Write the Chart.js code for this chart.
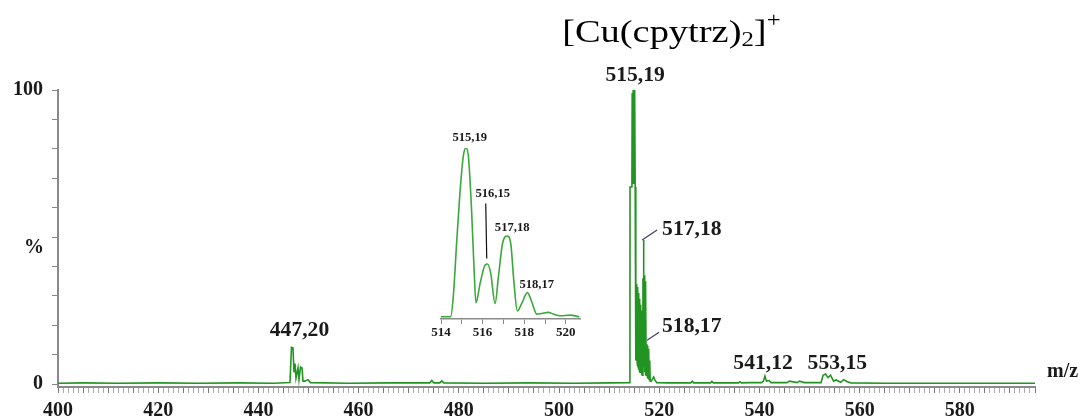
<!DOCTYPE html>
<html>
<head>
<meta charset="utf-8">
<script src="https://cdn.jsdelivr.net/npm/chart.js@4.4.1/dist/chart.umd.min.js"></script>
<style>
  html, body { margin: 0; padding: 0; background: #fff; }
  #wrap { position: relative; width: 1082px; height: 418px; }
  #wrap canvas { position: absolute; left: 0; top: 0; }
</style>
</head>
<body>
<div id="wrap">
  <canvas id="spectrum" width="1082" height="418"></canvas>
  <canvas id="inset" width="1082" height="418"></canvas>
</div>
<script>
// main spectrum, m/z and relative intensity (%)
const mzValues = [
  400, 405, 412, 420, 428, 436, 443, 446.3,
  446.6, 446.9, 447.1, 447.3, 447.5, 447.9, 448.1, 448.4, 448.7, 448.9, 449.3, 449.9, 450.4,
  458, 466, 474.2, 474.6, 475.0, 476.2, 476.6, 477.0, 485, 494, 503, 510, 514.15,
  514.17, 514.55, 514.6, 514.7, 514.8, 514.9, 515.0, 515.1, 515.2, 515.3,
  515.35, 515.4, 515.45, 515.5, 515.55, 515.6, 515.65, 515.7, 515.75, 515.8,
  515.85, 515.9, 515.95, 516.0, 516.05, 516.1, 516.15, 516.2, 516.25, 516.3,
  516.35, 516.4, 516.45, 516.5, 516.6, 516.75, 516.8, 516.85, 516.9, 516.95,
  517.0, 517.05, 517.1, 517.15, 517.2, 517.25, 517.3, 517.4, 517.55, 517.6,
  517.65, 517.7, 517.75, 517.8, 517.85, 517.9, 517.95, 518.0, 518.1, 518.2,
  518.4, 518.9, 519.1, 519.5,
  522, 526.3, 526.6, 526.9, 530.2, 530.5, 530.8, 535.8, 536.1, 536.4, 538,
  540.4, 540.8, 541.1, 541.4, 541.9, 542.3, 545.5, 546, 547.5, 548, 549,
  552.3, 552.7, 553.2, 553.7, 554.2, 554.8, 555.3, 556.2, 556.8, 557.5, 558.3,
  565, 575, 585, 595
];
const intensity = [
  0.3, 0.4, 0.3, 0.4, 0.3, 0.4, 0.3, 0.5,
  12.5, 12.3, 4, 7, 2, 5.5, 1.5, 5.8, 5.5, 1, 1, 1.5, 0.5,
  0.3, 0.4, 0.4, 1.2, 0.4, 0.4, 1.1, 0.4, 0.3, 0.4, 0.3, 0.4, 0.5,
  67, 67, 99, 68, 100, 68, 100, 98, 67, 8,
  33, 9, 34, 8, 33, 7, 33, 6, 32, 6,
  31, 5, 30, 5, 29, 4, 28, 4, 27, 4,
  26, 4, 25, 4, 3, 36, 6, 49, 37, 6,
  37, 5, 36, 4, 35, 3, 34, 3, 13.5, 3,
  13, 2, 13, 2, 12, 2, 11, 1.5, 8, 1,
  1, 2.4, 1.5, 0.5,
  0.4, 0.4, 1.0, 0.4, 0.4, 0.9, 0.4, 0.4, 0.8, 0.4, 0.5,
  0.5, 1.0, 2.7, 1.0, 1.2, 0.5, 0.5, 1.0, 0.5, 1.0, 0.5,
  0.5, 3.0, 3.4, 2.2, 3.0, 1.0, 1.4, 0.6, 1.5, 0.8, 0.4,
  0.3, 0.3, 0.3, 0.3
];

// inset (zoom on the molecular ion cluster)
const insetMz = [
  513.98, 514.46, 514.59, 514.75, 514.91, 515.07, 515.2, 515.31, 515.47, 515.59,
  515.68, 515.88, 516.12, 516.24, 516.39, 516.6, 516.76, 516.96, 517.19, 517.35,
  517.51, 517.67, 517.88, 518.15, 518.36, 518.6, 518.84, 519.16, 519.4, 519.72,
  520.2, 520.65
];
const insetIntensity = [
  0, 0, 11.9, 43.6, 73.3, 95, 100, 96, 63, 28,
  8.3, 19.8, 30.7, 31.3, 25.7, 7.9, 23.8, 43.6, 47.9, 43.6,
  19.8, 3.4, 7.9, 14.3, 8.9, 1.6, 2, 2.6, 1.6, 0.6,
  1, 0
];

const xTickLabels = [400, 420, 440, 460, 480, 500, 520, 540, 560, 580];
const yTickValues = [0, 10, 20, 30, 40, 50, 60, 70, 80, 90, 100];
const yTickLabels = { 0: '0', 100: '100' };
const insetTickLabels = [514, 516, 518, 520];

const peakNames = ['447,20', '515,19', '517,18', '518,17', '541,12', '553,15'];
const peakMz = [447.20, 515.19, 517.18, 518.17, 541.12, 553.15];
const peakHeight = [12.5, 100, 49, 13.5, 2.7, 3.4];

const insetNames = ['515,19', '516,15', '517,18', '518,17'];
const insetPeakMz = [515.19, 516.15, 517.18, 518.17];
const insetPeakHeight = [100, 31, 48, 14];

// label placement relative to the peak (px)
const peakOffsets = [[5, -16, 'center'], [0, -14, 'center'], [17, -10, 'left'], [12, -18, 'left'], [-2, -12, 'center'], [12, -10, 'center']];
const insetOffsets = [[4, -10], [7, -71], [5, -8], [9, -8]];

const serif = '"Liberation Serif", "Times New Roman", serif';
Chart.defaults.font.family = serif;

function drawText(ctx, text, x, y, size, align, weight, stretch) {
  ctx.save();
  ctx.font = (weight || 'bold') + ' ' + size + 'px ' + serif;
  ctx.textBaseline = 'middle';
  ctx.textAlign = 'left';
  ctx.fillStyle = '#1a1a1a';
  const w = ctx.measureText(text).width * stretch;
  let left = x;
  if (align === 'center') left = x - w / 2;
  if (align === 'right') left = x - w;
  ctx.translate(left, y);
  ctx.scale(stretch, 1);
  ctx.fillText(text, 0, 0);
  ctx.restore();
}

const spectrumLabels = {
  id: 'spectrumLabels',
  afterDatasetsDraw(chart) {
    const { ctx, chartArea, scales: { x, y } } = chart;
    peakNames.forEach((name, i) => {
      const px = x.getPixelForValue(peakMz[i]);
      const py = y.getPixelForValue(peakHeight[i]);
      const [dx, dy, align] = peakOffsets[i];
      drawText(ctx, name, px + dx, py + dy, 20, align, 'bold', 1.08);
    });
    // leader lines for 517,18 and 518,17
    ctx.save();
    ctx.strokeStyle = '#3c3f66';
    ctx.lineWidth = 1.2;
    [[2, 49, -3, 0, 12, -10], [3, 13.5, -3, -4, 9, -12]].forEach(([i, h, x0, y0, x1, y1]) => {
      const px = x.getPixelForValue(peakMz[i]);
      const py = y.getPixelForValue(h);
      ctx.beginPath();
      ctx.moveTo(px + x0, py + y0);
      ctx.lineTo(px + x1, py + y1);
      ctx.stroke();
    });
    ctx.restore();

    drawText(ctx, 'm/z', chartArea.right + 12, chartArea.bottom - 15, 20, 'left', 'bold', 1.0);
    drawText(ctx, '%', chartArea.left - 14, y.getPixelForValue(50) + 11, 20, 'right', 'bold', 1.0);

    // title [Cu(cpytrz)2]+
    ctx.save();
    ctx.fillStyle = '#000';
    ctx.textBaseline = 'alphabetic';
    ctx.translate(x.getPixelForValue(515.19) - 73, 42);
    ctx.scale(1.24, 1);
    let cx = 0;
    [['[Cu(cpytrz)', 31, 0], ['2', 20, 4], [']', 31, 0], ['+', 20, -15]].forEach(([t, s, dy]) => {
      ctx.font = s + 'px ' + serif;
      ctx.fillText(t, cx, dy);
      cx += ctx.measureText(t).width;
    });
    ctx.restore();
  }
};

const insetLabels = {
  id: 'insetLabels',
  afterDatasetsDraw(chart) {
    const { ctx, scales: { x, y } } = chart;
    insetNames.forEach((name, i) => {
      const px = x.getPixelForValue(insetPeakMz[i]);
      const py = y.getPixelForValue(insetPeakHeight[i]);
      const [dx, dy] = insetOffsets[i];
      drawText(ctx, name, px + dx, py + dy, 12, 'center', 'bold', 1.05);
    });
    const px = x.getPixelForValue(insetPeakMz[1]);
    const py = y.getPixelForValue(insetPeakHeight[1]);
    ctx.save();
    ctx.strokeStyle = '#111';
    ctx.lineWidth = 1.2;
    ctx.beginPath();
    ctx.moveTo(px, py - 61);
    ctx.lineTo(px + 1, py - 6);
    ctx.stroke();
    ctx.restore();
  }
};

const xMinor = [];
for (let v = 400; v <= 595; v++) xMinor.push(v);

new Chart(document.getElementById('spectrum'), {
  type: 'line',
  data: {
    datasets: [{
      data: mzValues.map((m, i) => ({ x: m, y: intensity[i] })),
      borderColor: '#229422',
      borderWidth: 1.6,
      pointRadius: 0,
      tension: 0,
      fill: false
    }]
  },
  options: {
    responsive: false,
    animation: false,
    events: [],
    layout: { padding: { top: 90, right: 47, left: 0, bottom: 0 } },
    plugins: { legend: { display: false }, tooltip: { enabled: false } },
    scales: {
      x: {
        type: 'linear',
        min: 400,
        max: 595,
        afterBuildTicks: s => { s.ticks = xMinor.map(v => ({ value: v })); },
        afterFit: s => { s.height = 31; },
        grid: {
          drawOnChartArea: false,
          tickLength: 6,
          color: c => (c.tick && c.tick.value % 5 === 0) ? '#777' : '#aaa'
        },
        border: { color: '#8a8a8a', width: 2 },
        ticks: {
          autoSkip: false,
          maxRotation: 0,
          padding: 6,
          color: '#1a1a1a',
          font: { size: 20, weight: 'bold' },
          callback: v => xTickLabels.includes(v) ? String(v) : ''
        }
      },
      y: {
        min: -1,
        max: 100,
        afterBuildTicks: s => { s.ticks = yTickValues.map(v => ({ value: v })); },
        afterFit: s => { s.width = 58; },
        grid: { drawOnChartArea: false, tickLength: 6, color: '#888' },
        border: { color: '#8a8a8a', width: 2 },
        ticks: {
          padding: 9,
          color: '#1a1a1a',
          font: { size: 20, weight: 'bold' },
          callback: v => yTickLabels[v] || ''
        }
      }
    }
  },
  plugins: [spectrumLabels]
});

const insetMinor = [514, 515, 516, 517, 518, 519, 520];

new Chart(document.getElementById('inset'), {
  type: 'line',
  data: {
    datasets: [{
      data: insetMz.map((m, i) => ({ x: m, y: insetIntensity[i] })),
      borderColor: '#3aa83a',
      borderWidth: 1.6,
      pointRadius: 0,
      cubicInterpolationMode: 'monotone',
      fill: false
    }]
  },
  options: {
    responsive: false,
    animation: false,
    events: [],
    layout: { padding: { top: 148, right: 502, left: 441, bottom: 0 } },
    plugins: { legend: { display: false }, tooltip: { enabled: false } },
    scales: {
      x: {
        type: 'linear',
        min: 514,
        max: 520.68,
        afterBuildTicks: s => { s.ticks = insetMinor.map(v => ({ value: v })); },
        afterFit: s => { s.height = 99; },
        grid: { drawOnChartArea: false, tickLength: 5, color: '#888' },
        border: { color: '#8a8a8a', width: 1.5 },
        ticks: {
          autoSkip: false,
          maxRotation: 0,
          padding: 1,
          color: '#1a1a1a',
          font: { size: 13, weight: 'bold' },
          callback: v => insetTickLabels.includes(v) ? String(v) : ''
        }
      },
      y: { display: false, min: -1.3, max: 100 }
    }
  },
  plugins: [insetLabels]
});
</script>
</body>
</html>
